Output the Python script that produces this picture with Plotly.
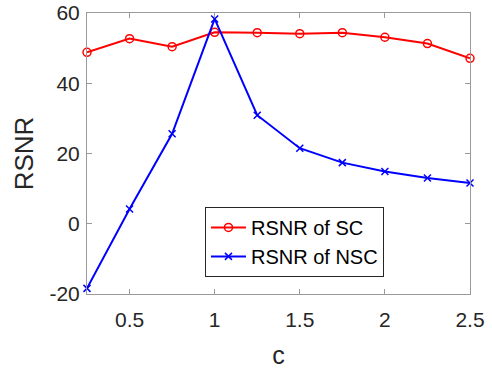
import plotly.graph_objects as go

c_vals = [0.25, 0.5, 0.75, 1.0, 1.25, 1.5, 1.75, 2.0, 2.25, 2.5]
rsnr_sc = [48.8, 52.7, 50.4, 54.5, 54.4, 54.1, 54.4, 53.1, 51.3, 47.1]
rsnr_nsc = [-18.4, 4.2, 25.6, 58.3, 30.9, 21.5, 17.4, 14.9, 13.0, 11.6]
x_ticks = [0.5, 1, 1.5, 2, 2.5]
x_labels = ["0.5", "1", "1.5", "2", "2.5"]
y_ticks = [-20, 0, 20, 40, 60]
y_labels = ["-20", "0", "20", "40", "60"]

FONT = "Liberation Sans, Arial"

fig = go.Figure()
fig.add_trace(go.Scatter(x=c_vals, y=rsnr_sc, mode="lines+markers", name="RSNR of SC",
                         line=dict(color="#ff0000", width=2),
                         marker=dict(symbol="circle-open", size=8, color="#ff0000", line=dict(width=1.5)),
                         cliponaxis=False))
fig.add_trace(go.Scatter(x=c_vals, y=rsnr_nsc, mode="lines+markers", name="RSNR of NSC",
                         line=dict(color="#0000ff", width=2),
                         marker=dict(symbol="x-thin-open", size=7, color="#0000ff", line=dict(width=1.5, color="#0000ff")),
                         cliponaxis=False))

axis_common = dict(showgrid=False, zeroline=False, showline=True, linecolor="#9a9a9a", linewidth=1,
                   mirror="ticks", ticks="inside", ticklen=5, tickcolor="#9a9a9a", automargin=False,
                   ticklabeloverflow="allow",
                   tickfont=dict(family=FONT, size=21, color="#262626"))

fig.update_layout(
    width=492, height=369,
    margin=dict(l=87, r=22, t=13, b=75),
    paper_bgcolor="white", plot_bgcolor="white",
    xaxis=dict(range=[0.25, 2.5], tickvals=x_ticks, ticktext=x_labels, ticklabelstandoff=7,
               title=dict(text="c", font=dict(family=FONT, size=25, color="#262626"), standoff=22),
               **axis_common),
    yaxis=dict(range=[-20, 60], tickvals=y_ticks, ticktext=y_labels, ticklabelstandoff=2,
               title=dict(text="RSNR", font=dict(family=FONT, size=26, color="#262626"), standoff=8),
               **axis_common),
    legend=dict(x=0.308, y=0.31, xanchor="left", yanchor="top",
                bordercolor="#262626", borderwidth=1, bgcolor="white",
                font=dict(family=FONT, size=20, color="#000000"),
                tracegroupgap=0, itemwidth=35),
    showlegend=True,
)

fig.write_html("out.html", config={"displayModeBar": False},
               post_script="document.body.style.margin='0';")
